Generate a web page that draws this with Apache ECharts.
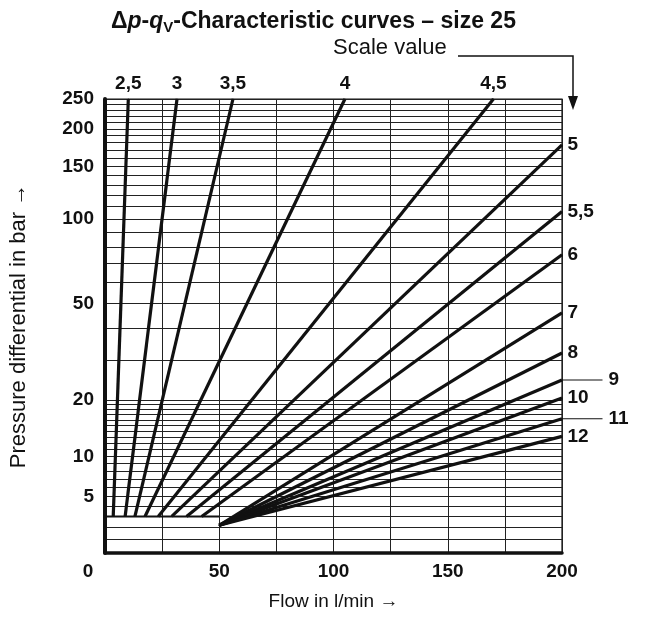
<!DOCTYPE html>
<html>
<head>
<meta charset="utf-8">
<title>dp-qV size 25</title>
<script src="https://cdn.jsdelivr.net/npm/echarts@6/dist/echarts.min.js"></script>
<style>
    html, body { margin: 0; padding: 0; background: #fff; }
    #chart { width: 646px; height: 619px; }
</style>
</head>
<body>
<div id="chart"></div>
<script>
    // 曲线名称（刻度值）
    var scaleNames = ['2,5', '3', '3,5', '4', '4,5', '5', '5,5', '6', '7', '8', '9', '10', '11', '12'];
    // 起点 流量 / 压差
    var startFlow = [3.6, 8.8, 13.1, 17.5, 23.3, 29.2, 35.7, 42.3, 50, 50, 50, 50, 50, 50];
    var startDp = [3, 3, 3, 3, 3, 3, 3, 3, 2.2, 2.2, 2.2, 2.2, 2.2, 2.2];
    // 终点 流量 / 压差
    var endFlow = [10.2, 31.5, 56, 105, 170, 200, 200, 200, 200, 200, 200, 200, 200, 200];
    var endDp = [250, 250, 250, 250, 250, 177, 106, 75, 46, 32, 24.6, 20.4, 16.2, 13.1];
    // 带引线的标签
    var leaderNames = ['9', '11'];
    // 起始横线
    var baseFlow = [0, 50];
    var baseDp = [3, 3];

    // y轴刻度
    var yLabels = [5, 10, 20, 50, 100, 150, 200, 250];
    var yGrid = [0, 1, 2, 3, 4, 5, 6, 7, 8, 9, 10, 11, 12, 13, 14, 15, 16, 17, 18, 19, 20,
        30, 40, 50, 60, 70, 80, 90, 100, 110, 120, 130, 140, 150, 160, 170, 180, 190, 200,
        210, 220, 230, 240, 250];

    var font = "'Liberation Sans', Arial, Helvetica, sans-serif";
    var ink = '#111';

    // 压差轴: log10(dp + 10)
    function t(dp) {
        return Math.log10(dp + 10);
    }

    var myChart = echarts.init(document.getElementById('chart'));

    var series = scaleNames.map(function (name, i) {
        var atTop = endDp[i] >= 250;
        var label = {
            show: true,
            position: atTop ? 'top' : 'right',
            distance: 5,
            formatter: name,
            color: ink,
            fontFamily: font,
            fontSize: 19,
            fontWeight: 'bold'
        };
        if (leaderNames.indexOf(name) >= 0) {
            label.distance = 0;
            label.formatter = '{l|}{n|' + name + '}';
            label.rich = {
                l: { width: 40, height: 1, backgroundColor: ink },
                n: { color: ink, fontFamily: font, fontSize: 19, fontWeight: 'bold', padding: [0, 0, 0, 6] }
            };
        }
        return {
            type: 'line',
            data: [
                [startFlow[i], t(startDp[i])],
                { value: [endFlow[i], t(endDp[i])], label: label }
            ],
            symbol: 'circle',
            symbolSize: 1,
            itemStyle: { color: ink },
            lineStyle: { color: ink, width: 3.2 },
            clip: false,
            silent: true
        };
    });

    series.push({
        type: 'line',
        data: baseFlow.map(function (q, i) { return [q, t(baseDp[i])]; }),
        symbol: 'none',
        lineStyle: { color: ink, width: 2 },
        silent: true
    });

    var option = {
        animation: false,
        backgroundColor: '#fff',
        title: {
            text: '{n|\u0394}{i|p}{n|-}{i|q}{s|V}{n|-Characteristic curves \u2013 size 25}',
            left: 106,
            top: 3,
            textStyle: {
                rich: {
                    n: { fontFamily: font, fontSize: 23, fontWeight: 'bold', color: ink },
                    i: { fontFamily: font, fontSize: 23, fontWeight: 'bold', fontStyle: 'italic', color: ink },
                    s: { fontFamily: font, fontSize: 15, color: ink, padding: [12, 0, 0, 0] }
                }
            }
        },
        grid: {
            show: true,
            left: 105,
            top: 99,
            width: 457,
            height: 454,
            outerBoundsMode: 'none',
            containLabel: false,
            borderColor: ink,
            borderWidth: 1.2
        },
        xAxis: {
            type: 'value',
            min: 0,
            max: 200,
            interval: 25,
            axisLine: { lineStyle: { color: ink, width: 3.5 } },
            axisTick: { show: false },
            splitLine: { show: true, lineStyle: { color: '#222', width: 1 } },
            axisLabel: {
                margin: 9,
                color: ink,
                fontFamily: font,
                fontSize: 19,
                fontWeight: 'bold',
                formatter: function (v) {
                    if (v % 50 !== 0) return '';
                    return v === 0 ? '{z|0}' : String(v);
                },
                rich: {
                    z: { fontFamily: font, fontSize: 19, fontWeight: 'bold', color: ink, padding: [0, 34, 0, 0] }
                }
            },
            name: 'Flow in l/min \u2192',
            nameLocation: 'middle',
            nameGap: 39,
            nameTextStyle: { color: ink, fontFamily: font, fontSize: 19 }
        },
        yAxis: {
            type: 'value',
            min: t(0),
            max: t(250),
            axisLine: { show: true, lineStyle: { color: ink, width: 4 } },
            axisTick: { show: false, customValues: yGrid.map(t) },
            splitLine: { show: true, lineStyle: { color: '#222', width: 1 } },
            axisLabel: {
                customValues: yLabels.map(t),
                margin: 11,
                color: ink,
                fontFamily: font,
                fontSize: 19,
                fontWeight: 'bold',
                formatter: function (v) {
                    return String(Math.round(Math.pow(10, v) - 10));
                }
            },
            name: 'Pressure differential in bar \u2192',
            nameLocation: 'middle',
            nameGap: 75,
            nameRotate: 90,
            nameTextStyle: { color: ink, fontFamily: font, fontSize: 22 }
        },
        graphic: [
            {
                type: 'text',
                left: 333,
                top: 37,
                style: { text: 'Scale value', fill: ink, font: '22px ' + font }
            },
            {
                type: 'polyline',
                shape: { points: [[458, 56], [573, 56], [573, 98]] },
                style: { stroke: ink, lineWidth: 1.5, fill: null }
            },
            {
                type: 'polygon',
                shape: { points: [[568, 96], [578, 96], [573, 110]] },
                style: { fill: ink }
            }
        ],
        series: series
    };

    myChart.setOption(option);
</script>
</body>
</html>
